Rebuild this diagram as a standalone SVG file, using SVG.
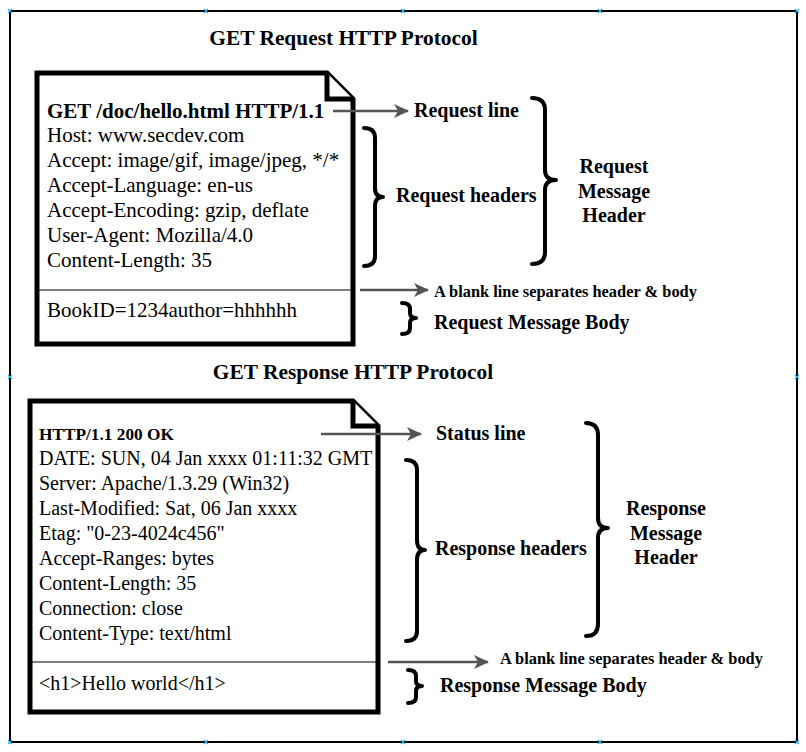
<svg xmlns="http://www.w3.org/2000/svg" width="806" height="752" viewBox="0 0 806 752">
<defs>
<style>
text{font-family:"Liberation Serif","Times New Roman",serif;fill:#000}
.b{font-weight:bold}
.t{font-size:20px}
.q{font-size:21px}
.s{font-size:16.4px;font-weight:bold}
.doc{fill:#fff;stroke:#000;stroke-width:5;stroke-linejoin:miter}
.sep{stroke:#000;stroke-width:1}
.br{fill:none;stroke:#000;stroke-width:4;stroke-linecap:round;stroke-linejoin:round}
.ar{stroke:#555;stroke-width:2.5;fill:none}
.h{stroke:#29a8e0;stroke-width:1.2}
</style>
<marker id="ah" viewBox="0 0 15 14" refX="14" refY="7" markerWidth="15" markerHeight="14" orient="auto" markerUnits="userSpaceOnUse">
<path d="M0,0 L15,7 L0,14 L4,7 z" fill="#555"/>
</marker>
</defs>
<rect x="0" y="0" width="806" height="752" fill="#fff"/>
<rect id="frame" x="10" y="11" width="787" height="731" fill="none" stroke="#000" stroke-width="2"/>

<text class="b" x="343.5" y="45" font-size="21.4" text-anchor="middle">GET Request HTTP Protocol</text>
<text class="b" x="353" y="379" font-size="21.4" text-anchor="middle">GET Response HTTP Protocol</text>

<g id="request-doc">
<path class="doc" d="M37,73 L327,73 L353,99 L353,344 L37,344 Z"/>
<path class="doc" d="M327,73 L327,99 L353,99" fill="none"/>
<line class="sep" x1="37" y1="290" x2="353" y2="290"/>
<text class="q b" x="47" y="118">GET /doc/hello.html HTTP/1.1</text>
<text class="q" x="47" y="142">Host: www.secdev.com</text>
<text class="q" x="47" y="167">Accept: image/gif, image/jpeg, */*</text>
<text class="q" x="47" y="192">Accept-Language: en-us</text>
<text class="q" x="47" y="217">Accept-Encoding: gzip, deflate</text>
<text class="q" x="47" y="242">User-Agent: Mozilla/4.0</text>
<text class="q" x="47" y="267">Content-Length: 35</text>
<text class="q" x="47" y="317">BookID=1234author=hhhhhh</text>
</g>

<g id="response-doc">
<path class="doc" d="M30,401 L353,401 L378,426 L378,712 L30,712 Z"/>
<path class="doc" d="M353,401 L353,426 L378,426" fill="none"/>
<line class="sep" x1="30" y1="662" x2="378" y2="662"/>
<text class="b" x="39" y="440" font-size="17.3">HTTP/1.1 200 OK</text>
<text class="t" x="39" y="465">DATE: SUN, 04 Jan xxxx 01:11:32 GMT</text>
<text class="t" x="39" y="490">Server: Apache/1.3.29 (Win32)</text>
<text class="t" x="39" y="515">Last-Modified: Sat, 06 Jan xxxx</text>
<text class="t" x="39" y="540">Etag: "0-23-4024c456"</text>
<text class="t" x="39" y="565">Accept-Ranges: bytes</text>
<text class="t" x="39" y="590">Content-Length: 35</text>
<text class="t" x="39" y="615">Connection: close</text>
<text class="t" x="39" y="640">Content-Type: text/html</text>
<text class="t" x="39" y="690">&lt;h1&gt;Hello world&lt;/h1&gt;</text>
</g>

<g id="labels">
<text class="t b" x="414" y="117">Request line</text>
<text class="t b" x="396" y="202">Request headers</text>
<text class="t b" x="614" y="173" text-anchor="middle">Request</text>
<text class="t b" x="614" y="198" text-anchor="middle">Message</text>
<text class="t b" x="614" y="222" text-anchor="middle">Header</text>
<text class="s" x="434" y="297">A blank line separates header &amp; body</text>
<text class="t b" x="434" y="329">Request Message Body</text>
<text class="t b" x="436" y="440">Status line</text>
<text class="t b" x="435" y="555">Response headers</text>
<text class="t b" x="666" y="515" text-anchor="middle">Response</text>
<text class="t b" x="666" y="540" text-anchor="middle">Message</text>
<text class="t b" x="666" y="564" text-anchor="middle">Header</text>
<text class="s" x="500" y="664">A blank line separates header &amp; body</text>
<text class="t b" x="440" y="692">Response Message Body</text>
</g>

<g id="connectors">
<line class="ar" x1="333" y1="111" x2="408" y2="111" marker-end="url(#ah)"/>
<line class="ar" x1="360" y1="290" x2="428" y2="290" marker-end="url(#ah)"/>
<line class="ar" x1="321" y1="434" x2="421" y2="434" marker-end="url(#ah)"/>
<line class="ar" x1="388" y1="662" x2="488" y2="662" marker-end="url(#ah)"/>
<path class="br" d="M364,128 Q375,128 375,138 L375,188 Q375,197 383,197 Q375,197 375,206 L375,256 Q375,266 364,266"/>
<path class="br" d="M532,98 Q545,98 545,110 L545,170 Q545,180 556,180 Q545,180 545,190 L545,252 Q545,264 532,264"/>
<path class="br" d="M402,303 Q410,303 410,309 L410,313 Q410,318 416,318 Q410,318 410,323 L410,328 Q410,334 402,334"/>
<path class="br" d="M406,460 Q417,460 417,470 L417,540 Q417,550 425,550 Q417,550 417,560 L417,631 Q417,641 406,641"/>
<path class="br" d="M586,423 Q598,423 598,435 L598,518 Q598,528 608,528 Q598,528 598,538 L598,624 Q598,636 586,636"/>
<path class="br" d="M408,670 Q416,670 416,676 L416,681 Q416,686 422,686 Q416,686 416,691 L416,697 Q416,703 408,703"/>
</g>

<g id="handles">
<path class="h" d="M8,9 l4,4 m0,-4 l-4,4 M204,9 l4,4 m0,-4 l-4,4 M401,9 l4,4 m0,-4 l-4,4 M598,9 l4,4 m0,-4 l-4,4 M795,9 l4,4 m0,-4 l-4,4 M8,375 l4,4 m0,-4 l-4,4 M795,375 l4,4 m0,-4 l-4,4 M8,740 l4,4 m0,-4 l-4,4 M204,740 l4,4 m0,-4 l-4,4 M401,740 l4,4 m0,-4 l-4,4 M598,740 l4,4 m0,-4 l-4,4 M795,740 l4,4 m0,-4 l-4,4"/>
</g>
</svg>
